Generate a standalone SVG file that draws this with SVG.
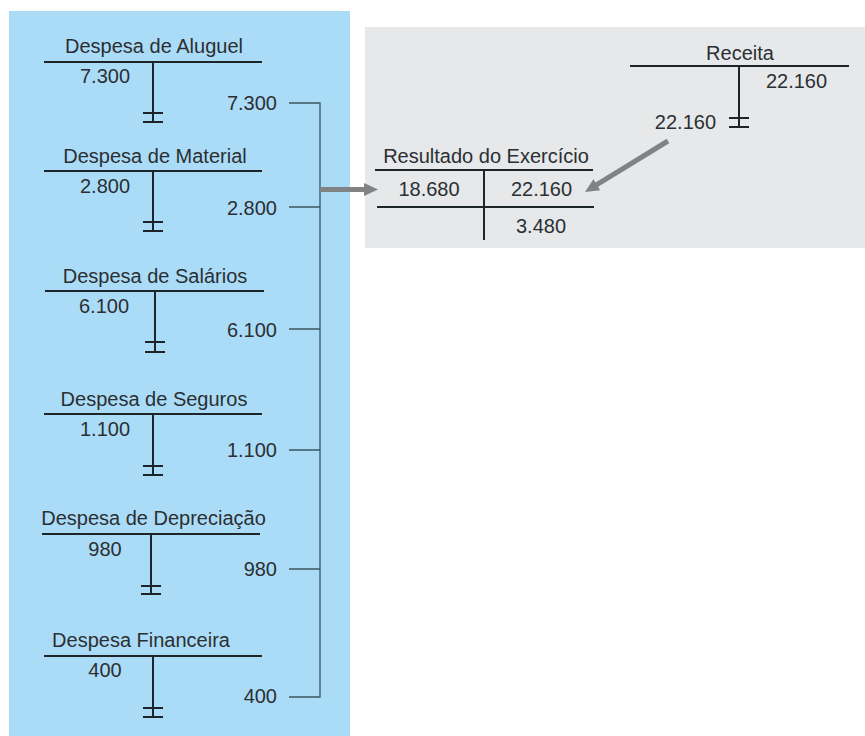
<svg xmlns="http://www.w3.org/2000/svg" width="865" height="736" viewBox="0 0 865 736">
<style>
text{font-family:"Liberation Sans",Arial,sans-serif;font-size:20px;fill:#2b2f33}
.m{text-anchor:middle}
.e{text-anchor:end}
.t{stroke:#1e2529;stroke-width:2;fill:none}
.b{stroke:#3d5563;stroke-width:1.3;fill:none}
.a{stroke:#808283;stroke-width:5;fill:none}
</style>
<defs>
<marker id="ah" markerUnits="userSpaceOnUse" markerWidth="16" markerHeight="14" refX="2" refY="6.5" orient="auto">
<path d="M0,0 L14,6.5 L0,13 z" fill="#808283"/>
</marker>
</defs>
<rect width="865" height="736" fill="#ffffff"/>
<rect x="9" y="11" width="341" height="725" fill="#abdcf7"/>
<rect x="365" y="27" width="500" height="221" fill="#e6e8ea"/>

<g id="aluguel">
<text class="m" x="154" y="53">Despesa de Aluguel</text>
<path class="t" d="M44,62H262M153,62V122M143,113H163M143,122H163"/>
<text class="m" x="105" y="83">7.300</text>
<text class="e" x="277" y="110">7.300</text>
</g>
<g id="material">
<text class="m" x="155" y="163">Despesa de Material</text>
<path class="t" d="M44,171H262M153,171V231M143,222H163M143,231H163"/>
<text class="m" x="105" y="193">2.800</text>
<text class="e" x="277" y="215">2.800</text>
</g>
<g id="salarios">
<text class="m" x="155" y="283">Despesa de Salários</text>
<path class="t" d="M45,291H264M155,291V352M145,342H165M145,352H165"/>
<text class="m" x="104" y="313">6.100</text>
<text class="e" x="277" y="337">6.100</text>
</g>
<g id="seguros">
<text class="m" x="154" y="406">Despesa de Seguros</text>
<path class="t" d="M44,414H262M153,414V475M143,466H163M143,475H163"/>
<text class="m" x="105" y="436">1.100</text>
<text class="e" x="277" y="457">1.100</text>
</g>
<g id="depreciacao">
<text class="m" x="153.5" y="525">Despesa de Depreciação</text>
<path class="t" d="M42,534H260M151,534V594M141,586H161M141,594H161"/>
<text class="m" x="105" y="556">980</text>
<text class="e" x="277" y="576">980</text>
</g>
<g id="financeira">
<text class="m" x="141" y="647">Despesa Financeira</text>
<path class="t" d="M44,656H262M153,656V717M143,708H163M143,717H163"/>
<text class="m" x="105" y="677">400</text>
<text class="e" x="277" y="703">400</text>
</g>

<g id="receita">
<text class="m" x="740" y="60">Receita</text>
<path class="t" d="M630,66H849M739,66V127M729,118H749M729,127H749"/>
<text class="m" x="796.5" y="88">22.160</text>
<text class="e" x="716" y="129">22.160</text>
</g>
<g id="resultado">
<text class="m" x="486" y="163">Resultado do Exercício</text>
<path class="t" d="M375,170H593M484,170V240M377,207H594"/>
<text class="m" x="429" y="196">18.680</text>
<text class="m" x="541.5" y="196">22.160</text>
<text class="m" x="541" y="233">3.480</text>
</g>

<g id="connectors">
<path class="b" d="M289,103H320V697H289M289,207H320M289,329H320M289,450H320M289,569H320"/>
<line class="a" x1="320" y1="189.5" x2="366" y2="189.5" marker-end="url(#ah)"/>
<line class="a" x1="668" y1="141" x2="595.2" y2="185.7" marker-end="url(#ah)"/>
</g>
</svg>
